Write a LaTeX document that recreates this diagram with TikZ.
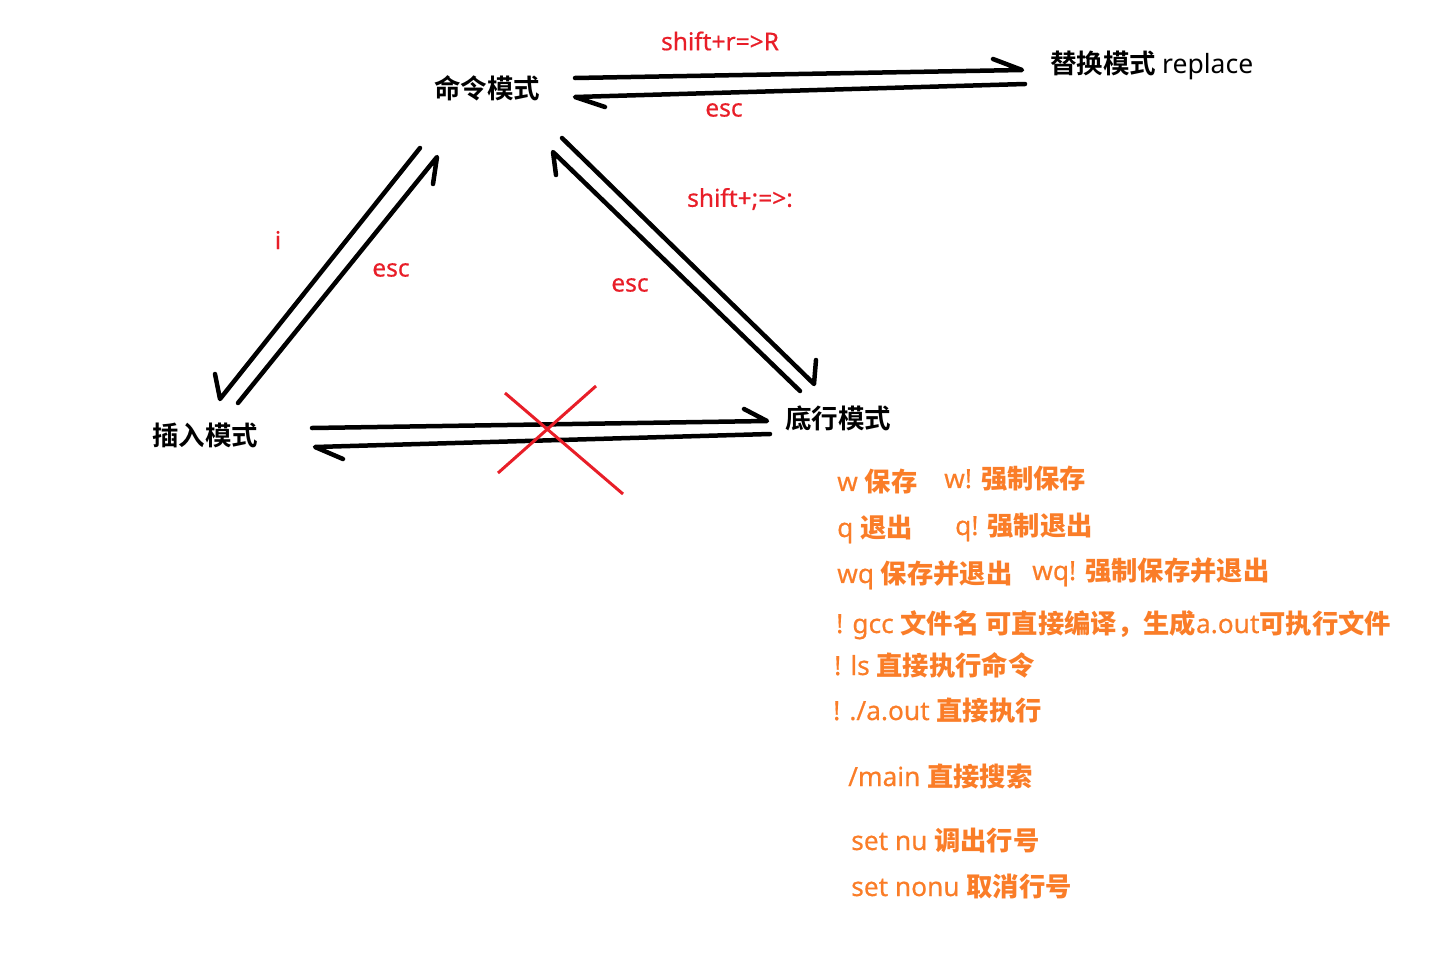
\documentclass[tikz,border=0pt]{standalone}
\usepackage{fontspec}
\setmainfont{Noto Sans}[FakeBold=0.5]
\newfontfamily\plainlatin{Noto Sans}
\newfontfamily\cjkb{Noto Sans CJK SC Bold}
\definecolor{redlab}{RGB}{232,30,40}
\definecolor{orangelab}{RGB}{250,125,40}
\newcommand\Cb[1]{{\cjkb #1}}
\tikzset{
  modelabel/.style={font=\fontsize{26.5}{30}\selectfont\cjkb, text=black, inner sep=0pt},
  keylabel/.style={font=\fontsize{24.5}{28}\selectfont\bfseries, text=redlab, inner sep=0pt},
  cmdline/.style={font=\fontsize{26.3}{30}\selectfont\bfseries, text=orangelab, inner sep=0pt, anchor=base west},
  handarrow/.style={line width=4.5pt, line cap=round, line join=round},
  crossline/.style={line width=3pt, draw=redlab}
}
\begin{document}
\begin{tikzpicture}[x=1pt,y=-1pt]
\useasboundingbox (0,0) rectangle (1433,961);
% mode labels
\node[modelabel] (cmd) at (487,88) {命令模式};
\node[modelabel, anchor=west] (rep) at (1050,65) {替换模式\ {\plainlatin\mdseries replace}};
\node[modelabel] (ins) at (205,435) {插入模式};
\node[modelabel] (bot) at (838,418) {底行模式};
% arrow end points
\coordinate (a1s) at (575,78);  \coordinate (a1e) at (1022,70);
\coordinate (a2s) at (1025,84); \coordinate (a2e) at (575,97);
\coordinate (a3s) at (420,148); \coordinate (a3e) at (220,399);
\coordinate (a4s) at (238,403); \coordinate (a4e) at (437,157);
\coordinate (a5s) at (562,138); \coordinate (a5e) at (814,384);
\coordinate (a6s) at (800,391); \coordinate (a6e) at (553,152);
\coordinate (a7s) at (312,428); \coordinate (a7e) at (767,421);
\coordinate (a8s) at (770,434); \coordinate (a8e) at (315,447);
% hand-drawn arrows with one-sided barbs
\draw[handarrow] (a1s) -- (a1e) -- ++(-29,-11);
\draw[handarrow] (a2s) -- (a2e) -- ++(30,10);
\draw[handarrow] (a3s) -- (a3e) -- ++(-5,-25);
\draw[handarrow] (a4s) -- (a4e) -- ++(-4,27);
\draw[handarrow] (a5s) -- (a5e) -- ++(2,-24);
\draw[handarrow] (a6s) -- (a6e) -- ++(3,23);
\draw[handarrow] (a7s) -- (a7e) -- ++(-23,-12);
\draw[handarrow] (a8s) -- (a8e) -- ++(28,12);
% red cross
\coordinate (x1s) at (505,393); \coordinate (x1e) at (623,494);
\coordinate (x2s) at (596,386); \coordinate (x2e) at (498,473);
\draw[crossline] (x1s) -- (x1e);
\draw[crossline] (x2s) -- (x2e);
% key labels
\node[keylabel] (k1) at (720,41) {shift+r=>R};
\node[keylabel] (k2) at (724,110) {esc};
\node[keylabel] (k3) at (278,240) {i};
\node[keylabel] (k4) at (391,270) {esc};
\node[keylabel] (k5) at (630,285) {esc};
\node[keylabel] (k6) at (740,199) {shift+;=>:};
% command notes
\node[cmdline] (c1a) at (837,491) {w \Cb{保存}};
\node[cmdline] (c1b) at (944,488) {w! \Cb{强制保存}};
\node[cmdline] (c2a) at (837,537) {q \Cb{退出}};
\node[cmdline] (c2b) at (955,535) {q! \Cb{强制退出}};
\node[cmdline] (c3a) at (837,583) {wq \Cb{保存并退出}};
\node[cmdline] (c3b) at (1032,580) {wq! \Cb{强制保存并退出}};
\node[cmdline] (c4) at (836,633) {! gcc \Cb{文件名 可直接编译，生成}a.out\Cb{可执行文件}};
\node[cmdline] (c5) at (834,675) {! ls \Cb{直接执行命令}};
\node[cmdline] (c6) at (833,720) {! ./a.out \Cb{直接执行}};
\node[cmdline] (c7) at (848,786) {/main \Cb{直接搜索}};
\node[cmdline] (c8) at (851,850) {set nu \Cb{调出行号}};
\node[cmdline] (c9) at (851,896) {set nonu \Cb{取消行号}};
\end{tikzpicture}
\end{document}
